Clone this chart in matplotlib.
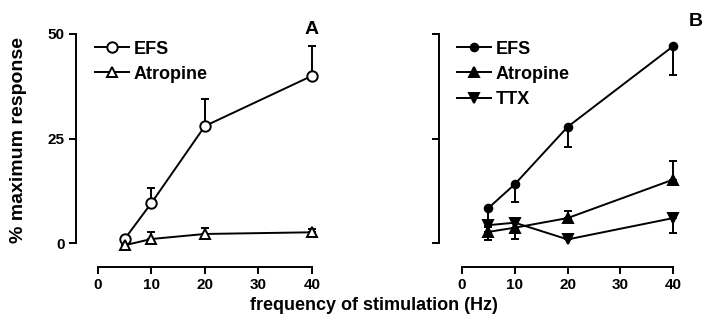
"""Frequency-response curves, panels A and B."""
import matplotlib
matplotlib.use("Agg")
import matplotlib.pyplot as plt
from matplotlib.lines import Line2D

plt.rcParams['font.family'] = ['Liberation Sans', 'DejaVu Sans']
plt.rcParams['font.weight'] = 'bold'
plt.rcParams['axes.labelweight'] = 'bold'

freq = [5, 10, 20, 40]

# panel A
a_efs = [1.0, 9.6, 28.0, 40.0]
a_efs_err = [0.0, 3.6, 6.4, 7.1]
a_atr = [-0.5, 1.0, 2.2, 2.6]
a_atr_err = [0.0, 1.6, 1.4, 0.8]

# panel B
b_efs = [8.4, 14.1, 27.8, 47.1]
b_efs_err = [4.5, 4.3, 4.8, 6.9]
b_atr = [2.7, 3.7, 6.0, 15.2]
b_atr_err = [0.0, 0.0, 1.6, 4.4]
b_ttx = [4.3, 4.9, 0.9, 6.0]
b_ttx_err = [3.6, 3.9, 0.0, 3.6]

yticks = [0, 25, 50]
xticks = [0, 10, 20, 30, 40]

LW = 1.4


def style_axis(ax, xmin):
    ax.set_xlim(xmin, 41.5)
    ax.set_ylim(-5.7, 52)
    for s in ('top', 'right'):
        ax.spines[s].set_visible(False)
    ax.spines['left'].set_bounds(0, 50)
    ax.spines['bottom'].set_bounds(0, 40)
    ax.spines['left'].set_linewidth(LW)
    ax.spines['bottom'].set_linewidth(LW)
    ax.set_xticks(xticks)
    ax.set_yticks(yticks)
    ax.tick_params(width=LW, length=5, labelsize=11, pad=3)


def series(ax, y, err, up, marker, ms, fill, label):
    yerr = [[0] * len(err), err] if up else [err, [0] * len(err)]
    ax.errorbar(freq, y, yerr=yerr, color='black', lw=LW, elinewidth=LW,
                capsize=3, capthick=LW, marker=marker, ms=ms,
                mfc=fill, mec='black', mew=LW, zorder=3)
    return Line2D([], [], color='black', lw=LW, marker=marker, ms=ms,
                  mfc=fill, mec='black', mew=LW, label=label)


fig = plt.figure(figsize=(7.06, 3.29), dpi=100)
axA = fig.add_axes([0.1076, 0.1884, 0.3456, 0.7337])
axB = fig.add_axes([0.6218, 0.1884, 0.343, 0.7337])

hA = [series(axA, a_efs, a_efs_err, True, 'o', 7.5, 'white', 'EFS'),
      series(axA, a_atr, a_atr_err, True, '^', 7.5, 'white', 'Atropine')]
style_axis(axA, -4.1)
axA.set_ylabel('% maximum response', fontsize=14)
axA.yaxis.set_label_coords(-0.2, 0.526)
axA.text(40, 51, 'A', fontsize=14, fontweight='bold', ha='center', va='center')

hB = [series(axB, b_efs, b_efs_err, False, 'o', 5.5, 'black', 'EFS'),
      series(axB, b_atr, b_atr_err, True, '^', 7, 'black', 'Atropine'),
      series(axB, b_ttx, b_ttx_err, False, 'v', 7, 'black', 'TTX')]
style_axis(axB, -4.36)
axB.set_yticklabels([])
fig.text(0.976, 0.935, 'B', fontsize=14, fontweight='bold', ha='left', va='center')

for ax, h, x0 in ((axA, hA, 0.078), (axB, hB, 0.074)):
    ax.legend(handles=h, loc='upper left', bbox_to_anchor=(x0, 0.938),
              frameon=False, fontsize=13, handlelength=1.9,
              handletextpad=0.25, labelspacing=0.45, borderpad=0,
              borderaxespad=0)

fig.text(0.53, 0.07, 'frequency of stimulation (Hz)', fontsize=13,
         ha='center', va='center')

fig.savefig('out.png', dpi=100)
